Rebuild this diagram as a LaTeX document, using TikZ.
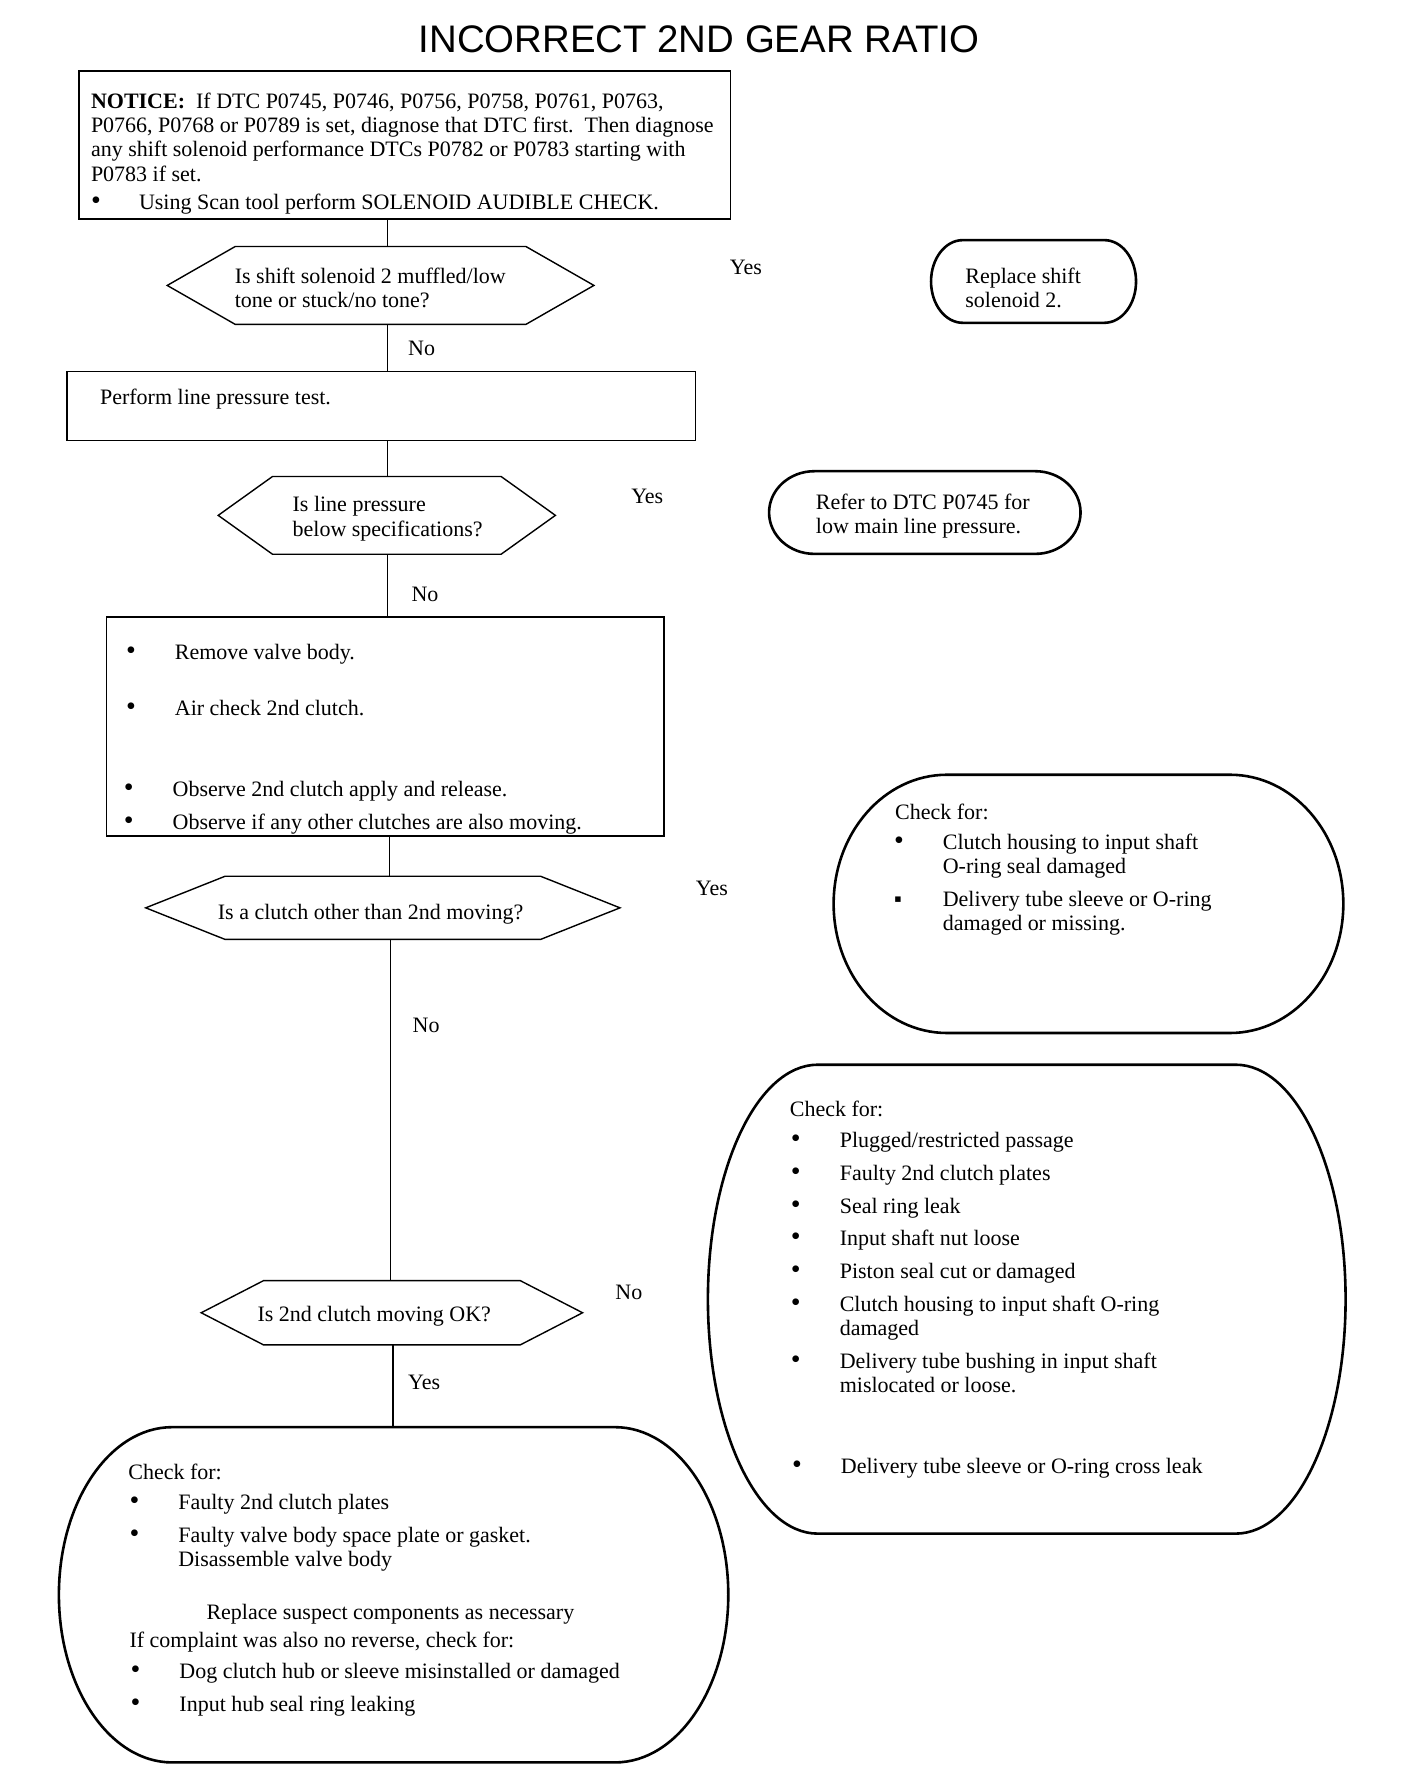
\documentclass[tikz,border=0pt]{standalone}
\usepackage{fontspec}
\setmainfont{Liberation Serif}
\newfontfamily\titlefont{Liberation Sans}
\usetikzlibrary{fit,calc}
\newcommand\bul{{\fontsize{14}{12}\selectfont\textbullet}}
\newcommand\rows[1]{\begin{tabular}[t]{@{}l@{}}#1\end{tabular}}
\newcommand\brows[1]{\begin{tabular}[t]{@{}p{24.4pt}@{}l@{}}#1\end{tabular}}
\newcommand\stadium[5]{%
\draw[stadln] ({#1+#5},#2) -- ({#3-#5},#2)
 .. controls ({#3-#5+0.5523*#5},#2) and (#3,{(#2+#4)/2-0.5523*(#4-#2)/2}) .. (#3,{(#2+#4)/2})
 .. controls (#3,{(#2+#4)/2+0.5523*(#4-#2)/2}) and ({#3-#5+0.5523*#5},#4) .. ({#3-#5},#4)
 -- ({#1+#5},#4)
 .. controls ({#1+#5-0.5523*#5},#4) and (#1,{(#2+#4)/2+0.5523*(#4-#2)/2}) .. (#1,{(#2+#4)/2})
 .. controls (#1,{(#2+#4)/2-0.5523*(#4-#2)/2}) and ({#1+#5-0.5523*#5},#2) .. cycle;}
\newcommand\hexa[2]{%
\draw[hexln] (#1.west) -- ($(#1.north west)+(#2,0)$) -- ($(#1.north east)+(-#2,0)$)
 -- (#1.east) -- ($(#1.south east)+(-#2,0)$) -- ($(#1.south west)+(#2,0)$) -- cycle;}
\begin{document}
\begin{tikzpicture}[x=0.5664pt,y=-0.5664pt,
  txt/.style={anchor=base west, inner sep=0pt, yshift=-1.1pt, font=\fontsize{11}{12.06}\selectfont},
  frame/.style={inner sep=0pt},
  boxln/.style={draw, line width=0.9pt},
  hexln/.style={line width=0.7pt},
  stadln/.style={line width=1.3pt},
  conn/.style={line width=0.7pt}]
\useasboundingbox (0,0) rectangle (1243,1568);
\fill[white] (0,0) rectangle (1243,1568);

% title
\node[anchor=base, inner sep=0pt, font=\titlefont\fontsize{19.2}{22}\selectfont] (title) at (617,46) {INCORRECT 2ND GEAR RATIO};

% shapes
\node[frame, boxln, fit={(70,63) (645,193)}] (notice) {};
\node[frame, fit={(148,218) (524,286)}] (h1) {};
\hexa{h1}{60}
\node[frame, fit={(822,212) (1003,285)}] (repl) {};
\stadium{822}{212}{1003}{285}{28}
\node[frame, boxln, line width=0.8pt, fit={(59,328) (614,389)}] (perform) {};
\node[frame, fit={(193,421) (490,489)}] (h2) {};
\hexa{h2}{48}
\node[frame, fit={(679,416) (954,489)}] (refer) {};
\stadium{679}{416}{954}{489}{40}
\node[frame, boxln, fit={(94,545) (586,738)}] (valve) {};
\node[frame, fit={(129,774) (547,829)}] (h3) {};
\hexa{h3}{70}
\node[frame, fit={(736,684) (1186,912)}] (chkA) {};
\stadium{736}{684}{1186}{912}{100}
\node[frame, fit={(178,1131) (514,1187)}] (h4) {};
\hexa{h4}{55}
\node[frame, fit={(625,940) (1188,1354)}] (chkB) {};
\stadium{625}{940}{1188}{1354}{97}
\node[frame, fit={(52,1260) (643,1556)}] (chkC) {};
\stadium{52}{1260}{643}{1556}{100}

% connectors
\coordinate (L1) at (342,0);
\coordinate (L3) at (344,0);
\coordinate (L4) at (345,0);
\coordinate (L5) at (347,0);
\draw[conn] (notice.south -| L1) -- (h1.north -| L1);
\draw[conn] (h1.south -| L1) -- (perform.north -| L1);
\draw[conn] (perform.south -| L1) -- (h2.north -| L1);
\draw[conn] (h2.south -| L1) -- (valve.north -| L1);
\draw[conn] (valve.south -| L3) -- (h3.north -| L3);
\draw[conn] (h3.south -| L4) -- (h4.north -| L4);
\draw[conn] (h4.south -| L5) -- (chkC.north -| L5);

% texts
\node[txt] (ntxt) at (80,94) {\rows{\textbf{NOTICE:}\ \ If DTC P0745, P0746, P0756, P0758, P0761, P0763,\\
P0766, P0768 or P0789 is set, diagnose that DTC first.\ \ Then diagnose\\
any shift solenoid performance DTCs P0782 or P0783 starting with\\
P0783 if set.}};
\node[txt] (nbul) at (80,183) {\begin{tabular}[t]{@{}p{24pt}@{}l@{}}\bul & Using Scan tool perform SOLENOID AUDIBLE CHECK.\end{tabular}};

\node[txt] (q1) at (207,248) {\rows{Is shift solenoid 2 muffled/low\\tone or stuck/no tone?}};
\node[txt] (y1) at (644,240) {Yes};
\node[txt] (r1) at (852,248) {\rows{Replace shift\\solenoid 2.}};
\node[txt] (n1) at (360,312) {No};
\node[txt] (p1) at (88,355) {Perform line pressure test.};
\node[txt] (q2) at (258,450) {\rows{Is line pressure\\below specifications?}};
\node[txt] (y2) at (557,443) {Yes};
\node[txt] (r2) at (720,448) {\rows{Refer to DTC P0745 for\\low main line pressure.}};
\node[txt] (n2) at (363,529) {No};

\node[txt] (v1) at (111,580) {\brows{\bul & Remove valve body.}};
\node[txt] (v2) at (111,630) {\brows{\bul & Air check 2nd clutch.}};
\node[txt] (v3) at (109,701) {\brows{\bul & Observe 2nd clutch apply and release.}};
\node[txt] (v4) at (109,730) {\brows{\bul & Observe if any other clutches are also moving.}};

\node[txt] (q3) at (192,810) {Is a clutch other than 2nd moving?};
\node[txt] (y3) at (614,789) {Yes};
\node[txt] (a0) at (790,722) {Check for:};
\node[txt] (a1) at (789,748) {\brows{\bul & Clutch housing to input shaft\\ & O-ring seal damaged}};
\node[txt] (a2) at (789,798) {\brows{▪ & Delivery tube sleeve or O-ring\\ & damaged or missing.}};
\node[txt] (n3) at (364,910) {No};

\node[txt] (q4) at (227,1165) {Is 2nd clutch moving OK?};
\node[txt] (n4) at (543,1145) {No};
\node[txt] (y4) at (360,1225) {Yes};

\node[txt] (b0) at (697,984) {Check for:};
\node[txt] (b1) at (698,1011) {\brows{\bul & Plugged/restricted passage}};
\node[txt] (b2) at (698,1040) {\brows{\bul & Faulty 2nd clutch plates}};
\node[txt] (b3) at (698,1069) {\brows{\bul & Seal ring leak}};
\node[txt] (b4) at (698,1098) {\brows{\bul & Input shaft nut loose}};
\node[txt] (b5) at (698,1127) {\brows{\bul & Piston seal cut or damaged}};
\node[txt] (b6) at (698,1156) {\brows{\bul & Clutch housing to input shaft O-ring\\ & damaged}};
\node[txt] (b7) at (698,1206) {\brows{\bul & Delivery tube bushing in input shaft\\ & mislocated or loose.}};
\node[txt] (b8) at (699,1299) {\brows{\bul & Delivery tube sleeve or O-ring cross leak}};

\node[txt] (c0) at (113,1304) {Check for:};
\node[txt] (c1) at (114,1331) {\brows{\bul & Faulty 2nd clutch plates}};
\node[txt] (c2) at (114,1360) {\brows{\bul & Faulty valve body space plate or gasket.\\ & Disassemble valve body}};
\node[txt] (c3) at (182,1428) {Replace suspect components as necessary};
\node[txt] (c4) at (114,1453) {If complaint was also no reverse, check for:};
\node[txt] (c5) at (115,1480) {\brows{\bul & Dog clutch hub or sleeve misinstalled or damaged}};
\node[txt] (c6) at (115,1509) {\brows{\bul & Input hub seal ring leaking}};
\end{tikzpicture}
\end{document}
